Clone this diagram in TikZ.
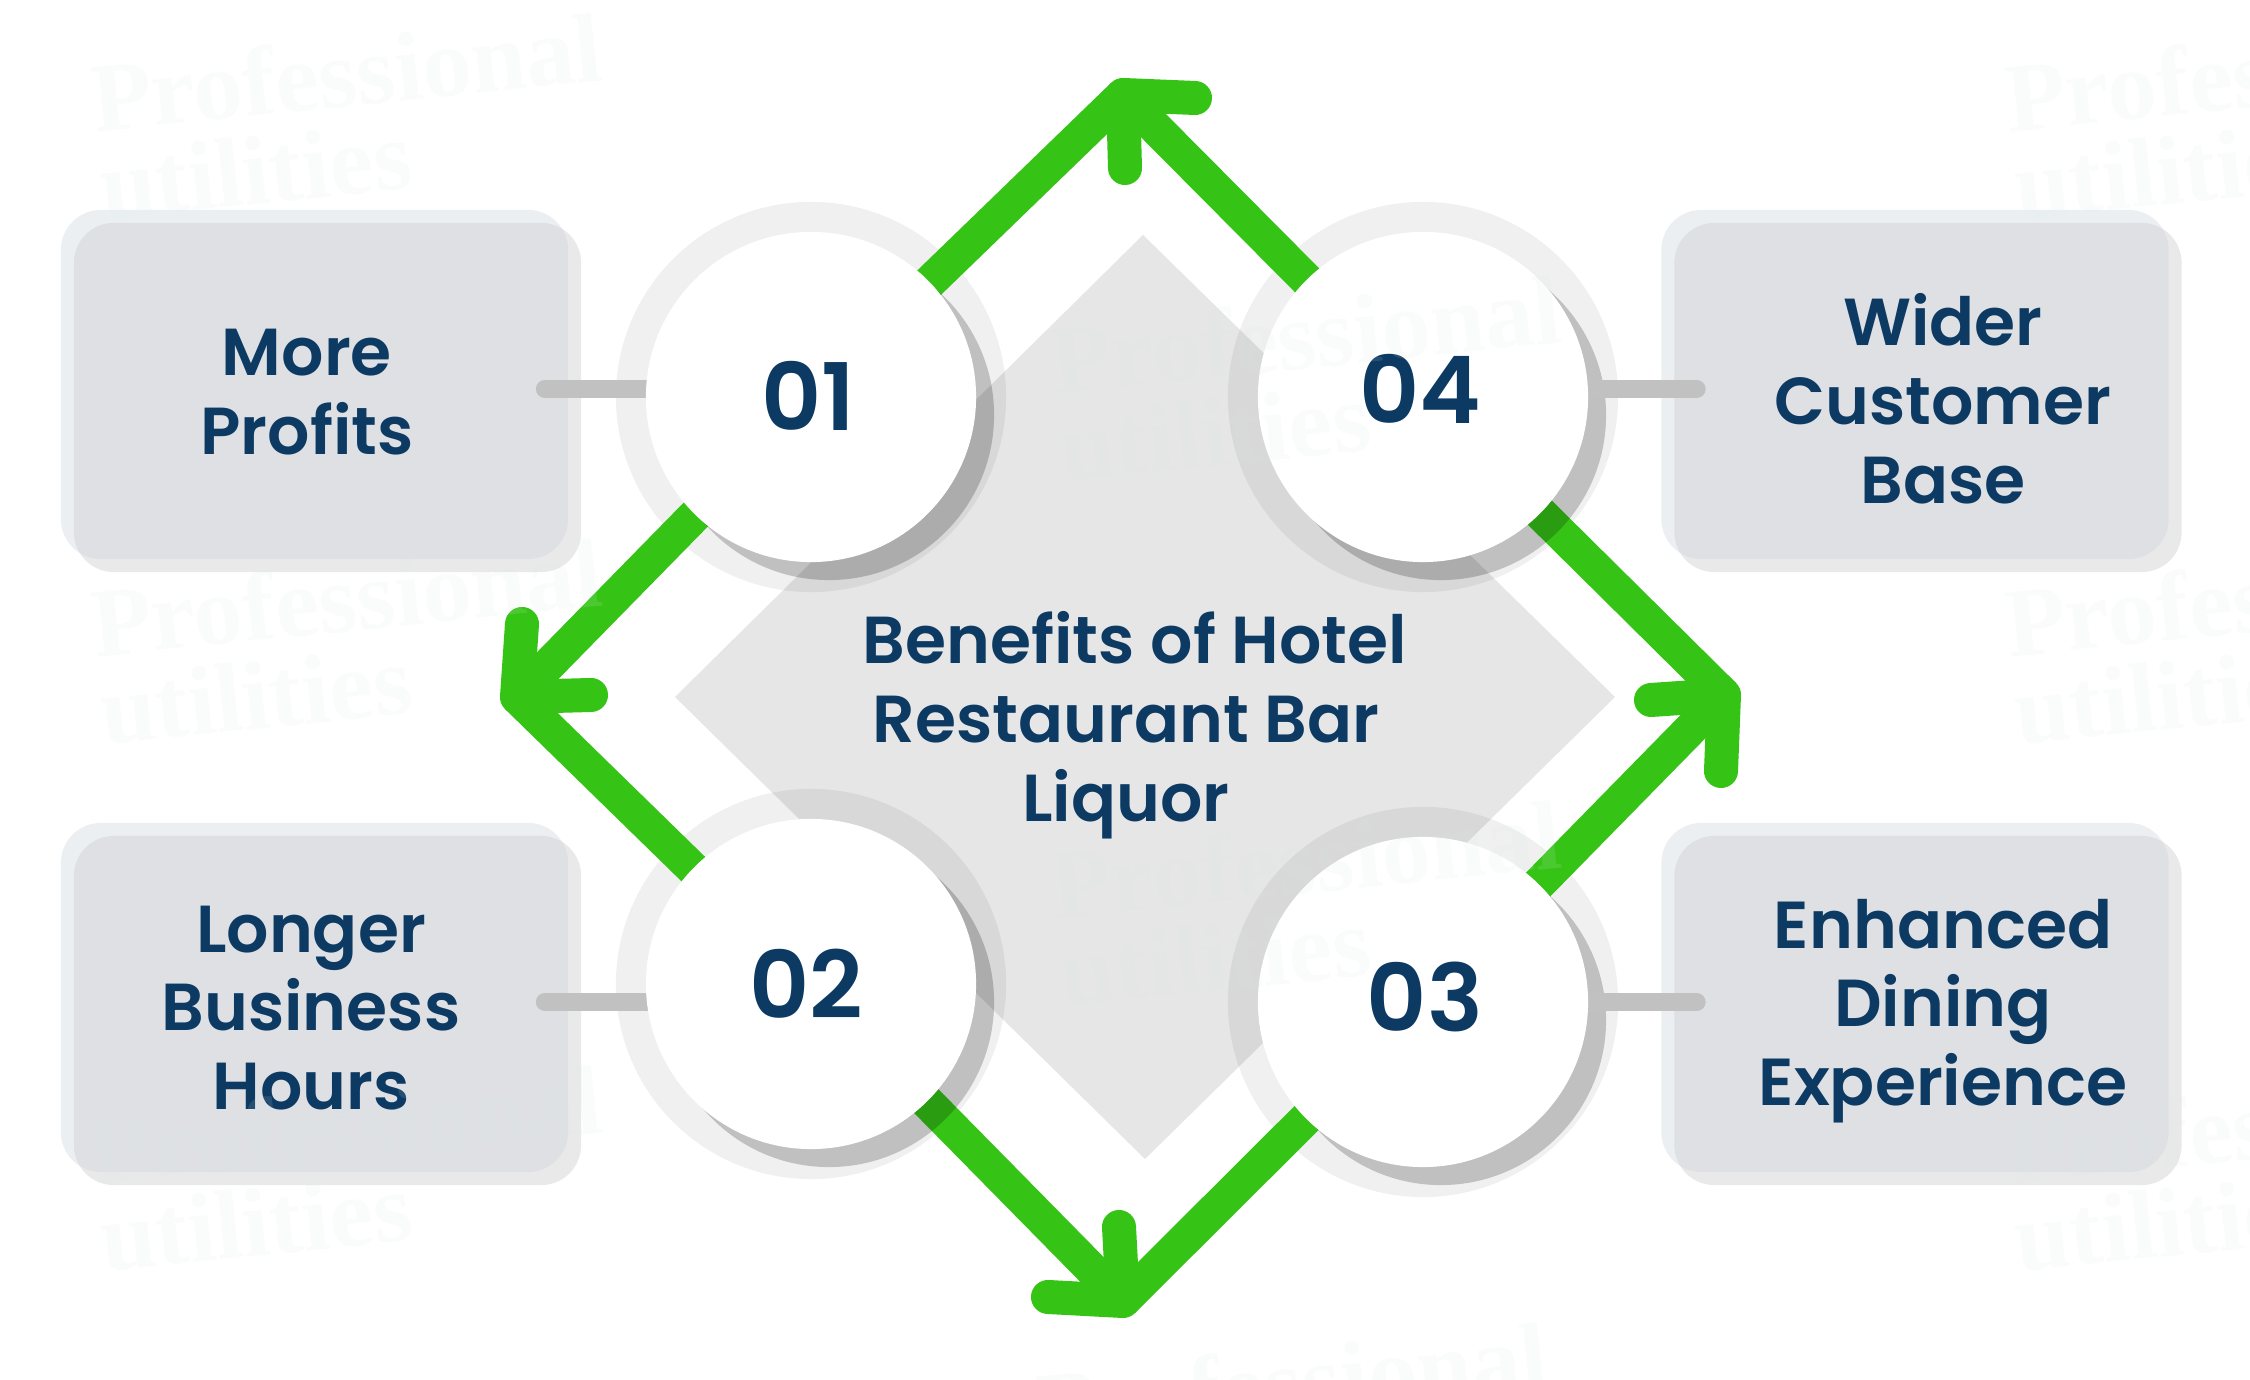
\documentclass[tikz,border=0pt]{standalone}
\usepackage{fontspec}
\setmainfont{Poppins SemiBold}
\newfontfamily\wmfont{Liberation Serif Bold}
\usetikzlibrary{calc}
\definecolor{ink}{HTML}{0C3A63}
\definecolor{grn}{HTML}{35C416}
\definecolor{stubgray}{HTML}{C1C1C1}
\definecolor{dia}{HTML}{E6E6E6}
\definecolor{boxshade}{HTML}{E9E9E9}
\definecolor{boxtint}{RGB}{199,208,217}
\definecolor{wmtint}{HTML}{DCEBE4}
\pgfdeclarelayer{lboxes}\pgfdeclarelayer{lrings}\pgfdeclarelayer{lconn}\pgfdeclarelayer{lshadow}\pgfdeclarelayer{lstubs}
\pgfsetlayers{lboxes,lrings,lconn,lshadow,lstubs,main}
\tikzset{
  x=0.01cm,y=-0.01cm,
  cardshade/.style={fill=boxshade,rounded corners=0.4cm,minimum width=5.07cm,minimum height=3.49cm,inner sep=0pt},
  card/.style={fill=boxtint,fill opacity=.32,rounded corners=0.4cm,minimum width=5.07cm,minimum height=3.49cm,inner sep=0pt},
  ringdisc/.style={circle,fill=black,fill opacity=.06,minimum size=3.9cm,inner sep=0pt},
  shadedisc/.style={circle,fill=black,fill opacity=.2,minimum size=3.3cm,inner sep=0pt},
  whitedisc/.style={circle,fill=white,minimum size=3.3cm,inner sep=0pt},
  numlab/.style={text=ink,inner sep=0pt,font=\fontsize{26.5}{30}\selectfont},
  lab/.style={text=ink,align=center,inner sep=0pt,font=\fontsize{18.9}{22.4}\selectfont},
  flow/.style={draw=grn,line width=0.34cm},
  barb/.style={draw=grn,line width=0.34cm,line cap=round,line join=round},
  stub/.style={draw=stubgray,line width=0.18cm,line cap=round},
  wm/.style={text=wmtint,text opacity=.13,align=left,rotate=5.8,inner sep=0pt,font=\wmfont\fontsize{28}{25}\selectfont},
}
\begin{document}
\begin{tikzpicture}
\useasboundingbox (0,0) rectangle (2250,1380);
% centre diamond
\begin{pgfonlayer}{lboxes}
\fill[white] (0,0) rectangle (2250,1380);
\fill[dia] (1143,235) -- (1615,697) -- (1145,1159) -- (675,697) -- cycle;
\node[cardshade] (s1) at (327.5,397.5) {};
\node[cardshade] (s2) at (327.5,1010.5) {};
\node[cardshade] (s3) at (1928,1010.5) {};
\node[cardshade] (s4) at (1928,397.5) {};
\node[card] (b1) at (314.5,384.5) {};
\node[card] (b2) at (314.5,997.5) {};
\node[card] (b3) at (1915,997.5) {};
\node[card] (b4) at (1915,384.5) {};
\end{pgfonlayer}
% circles
\node[whitedisc] (c1) at (811,397) {};
\node[whitedisc] (c2) at (811,984) {};
\node[whitedisc] (c3) at (1423,1002) {};
\node[whitedisc] (c4) at (1423,397) {};
\node[numlab] (n1) at (808,396) {01};
\node[numlab] (n2) at (806,984) {02};
\node[numlab] (n3) at (1425,997) {03};
\node[numlab] (n4) at (1420,389) {04};
\begin{pgfonlayer}{lrings}
\node[ringdisc] (r1) at (c1) {};
\node[ringdisc] (r2) at (c2) {};
\node[ringdisc] (r3) at (c3) {};
\node[ringdisc] (r4) at (c4) {};
\end{pgfonlayer}
\begin{pgfonlayer}{lshadow}
\node[shadedisc] (d1) at ($(c1)+(18,18)$) {};
\node[shadedisc] (d2) at ($(c2)+(18,18)$) {};
\node[shadedisc] (d3) at ($(c3)+(18,18)$) {};
\node[shadedisc] (d4) at ($(c4)+(18,18)$) {};
\end{pgfonlayer}
% vertices and barb ends
\coordinate (vT) at (1123,95);
\coordinate (vL) at (517,697);
\coordinate (vB) at (1123,1301);
\coordinate (vR) at (1724,695);
\coordinate (tA) at (1195,98);  \coordinate (tB) at (1125,168);
\coordinate (lA) at (522,624);  \coordinate (lB) at (591,695);
\coordinate (bA) at (1119,1227);\coordinate (bB) at (1048,1297);
\coordinate (rA) at (1651,700); \coordinate (rB) at (1721,771);
\begin{pgfonlayer}{lconn}
\draw[flow] (c1.center) -- (vT);
\draw[flow] (c4.center) -- (vT);
\draw[flow] (c1.center) -- (vL);
\draw[flow] (c2.center) -- (vL);
\draw[flow] (c2.center) -- (vB);
\draw[flow] (c3.center) -- (vB);
\draw[flow] (c3.center) -- (vR);
\draw[flow] (c4.center) -- (vR);
\draw[barb] (tA) -- (vT) -- (tB);
\draw[barb] (lA) -- (vL) -- (lB);
\draw[barb] (bA) -- (vB) -- (bB);
\draw[barb] (rA) -- (vR) -- (rB);
\end{pgfonlayer}
\begin{pgfonlayer}{lstubs}
\draw[stub] ([shift={(-24,4.5)}]b1.east) -- (c1.center |- {$(b1.east)+(0,4.5)$});
\draw[stub] ([shift={(-24,4.5)}]b2.east) -- (c2.center |- {$(b2.east)+(0,4.5)$});
\draw[stub] ([shift={(36,4.5)}]b3.west) -- (c3.center |- {$(b3.west)+(0,4.5)$});
\draw[stub] ([shift={(36,4.5)}]b4.west) -- (c4.center |- {$(b4.west)+(0,4.5)$});
\end{pgfonlayer}
% labels
\node[lab] (t1) at (307,392) {More\\Profits};
\node[lab] (t2) at (311,1008) {Longer\\Business\\Hours};
\node[lab] (t3) at (1943,1011) {Enhanced\\Dining\\Experience};
\node[lab] (t4) at (1943,399) {Wider\\Customer\\Base};
\node[lab] (t0) at (1126,725) {\hspace*{0.18cm}Benefits of Hotel\\Restaurant Bar\\Liquor};
% faint watermark
\begin{scope}
\clip (0,0) rectangle (2250,1380);
\node[wm] (w1) at (351,116) {Professional\\utilities};
\node[wm] (w2) at (351,641) {Professional\\utilities};
\node[wm] (w3) at (351,1168) {Professional\\utilities};
\node[wm] (w4) at (2265,116) {Professional\\utilities};
\node[wm] (w5) at (2265,641) {Professional\\utilities};
\node[wm] (w6) at (2265,1168) {Professional\\utilities};
\node[wm] (w7) at (1310,378) {Professional\\utilities};
\node[wm] (w8) at (1310,903) {Professional\\utilities};
\node[wm] (w9) at (1297,1425) {Professional\\utilities};
\end{scope}
\end{tikzpicture}
\end{document}
